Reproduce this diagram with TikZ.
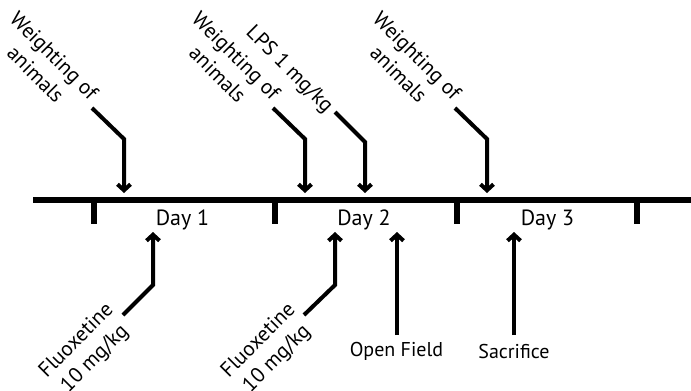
\documentclass[tikz,border=0pt]{standalone}
\usepackage{fontspec}
\setmainfont{PT Sans}
\usetikzlibrary{arrows.meta}
\begin{document}
\begin{tikzpicture}[x=1pt,y=-1pt,
  arr/.style={line width=4pt,-{Straight Barb[length=6pt,width=13pt]}},
  lbl/.style={font=\fontsize{20}{26}\selectfont,align=center,inner sep=0pt},
  rlbl/.style={font=\fontsize{21}{26}\selectfont,align=center,inner sep=0pt},
  daylbl/.style={font=\fontsize{22}{26}\selectfont,inner sep=0pt},
  tick/.style={line width=6pt}]
\useasboundingbox (0,0) rectangle (691,391);
% timeline
\coordinate (L0) at (33,200);
\coordinate (L1) at (691,200);
\draw[line width=6pt] (L0) -- (L1);
\foreach \x [count=\i] in {94,275,457,637}{
  \coordinate (t\i) at (\x,200);
  \coordinate (tb\i) at (\x,224);
  \draw[tick] (t\i) -- (tb\i);
}
% day labels
\node[daylbl] (d1) at (182.5,220) {Day 1};
\node[daylbl] (d2) at (364,220) {Day 2};
\node[daylbl] (d3) at (547.5,220) {Day 3};
% top labels
\node[rlbl,rotate=-45] (w1) at (45,65) {Weighting of\\animals};
\node[rlbl,rotate=-45] (w2) at (227,65) {Weighting of\\animals};
\node[rlbl,rotate=-45] (lps) at (289,70) {LPS 1 mg/kg};
\node[rlbl,rotate=-45] (w3) at (408,65) {Weighting of\\animals};
% top arrows
\coordinate (a1s) at (92,108); \coordinate (a1b) at (124,139); \coordinate (a1t) at (124,193);
\coordinate (a2s) at (273,108); \coordinate (a2b) at (305,139); \coordinate (a2t) at (305,193);
\coordinate (a3s) at (335,112); \coordinate (a3b) at (365,142); \coordinate (a3t) at (365,193);
\coordinate (a4s) at (455,108); \coordinate (a4b) at (487,139); \coordinate (a4t) at (487,193);
\draw[arr] (a1s) -- (a1b) -- (a1t);
\draw[arr] (a2s) -- (a2b) -- (a2t);
\draw[arr] (a3s) -- (a3b) -- (a3t);
\draw[arr] (a4s) -- (a4b) -- (a4t);
% bottom labels
\node[rlbl,rotate=45] (f1) at (86,350) {Fluoxetine\\10 mg/kg};
\node[rlbl,rotate=45] (f2) at (268,350) {Fluoxetine\\10 mg/kg};
\node[lbl] (of) at (396.5,351) {Open Field};
\node[lbl] (sc) at (514,351) {Sacrifice};
% bottom arrows
\coordinate (b1s) at (123,315); \coordinate (b1b) at (153,285); \coordinate (b1t) at (153,232);
\coordinate (b2s) at (304,315); \coordinate (b2b) at (335,285); \coordinate (b2t) at (335,232);
\coordinate (b3s) at (397,335); \coordinate (b3t) at (397,232);
\coordinate (b4s) at (514,335); \coordinate (b4t) at (514,232);
\draw[arr] (b1s) -- (b1b) -- (b1t);
\draw[arr] (b2s) -- (b2b) -- (b2t);
\draw[arr] (b3s) -- (b3t);
\draw[arr] (b4s) -- (b4t);
\end{tikzpicture}
\end{document}
